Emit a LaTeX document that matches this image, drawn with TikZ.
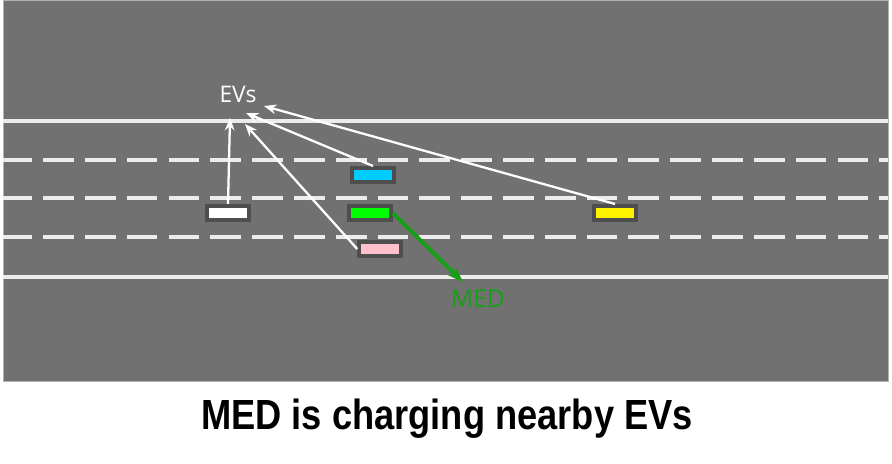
\documentclass[tikz,border=0pt]{standalone}
\usepackage{fontspec}
\setmainfont{Liberation Sans}
\newfontfamily\labelfont{Open Sans}
\usetikzlibrary{arrows.meta}

\definecolor{roadgray}{RGB}{113,113,113}
\definecolor{carborder}{RGB}{78,78,78}
\definecolor{lanewhite}{RGB}{236,236,236}
\definecolor{evcyan}{RGB}{0,204,255}
\definecolor{evpink}{RGB}{255,192,203}
\definecolor{medgreen}{RGB}{0,255,0}
\definecolor{arrowgreen}{RGB}{22,160,22}

\begin{document}
\begin{tikzpicture}[x=0.02cm, y=-0.02cm,
    car/.style={draw=carborder, line width=2pt, rectangle, inner sep=0pt,
                minimum width=0.84cm, minimum height=0.29cm},
    solidlane/.style={lanewhite, line width=2.2pt},
    dashlane/.style={lanewhite, line width=2.2pt, dash pattern=on 17.5pt off 6.3pt, dash phase=1pt},
    evarrow/.style={white, line width=1.3pt, -{Stealth[length=7pt, width=5.5pt]}},
    medarrow/.style={arrowgreen, line width=2.2pt, -{Stealth[length=9pt, width=6.5pt]}}]
    \useasboundingbox (0,0) rectangle (892,463);
    % road
    \fill[roadgray] (3,0) rectangle (888,381);
    \draw[gray!60, line width=0.4pt] (3,0) rectangle (888,381);
    \draw[solidlane] (3,121) -- (888,121);
    \draw[solidlane] (3,277) -- (888,277);
    \foreach \y in {160,198,237}
        \draw[dashlane] (3,\y) -- (888,\y);
    % vehicles
    \node[car, fill=white] (whitecar) at (228,213) {};
    \node[car, fill=evcyan] (cyancar) at (373,175) {};
    \node[car, fill=medgreen] (greencar) at (370,213) {};
    \node[car, fill=evpink] (pinkcar) at (380,249) {};
    \node[car, fill=yellow] (yellowcar) at (615,213) {};
    % labels
    \node[white, font=\labelfont\fontsize{13}{15}\selectfont] (evs) at (238,94) {EVs};
    \node[arrowgreen, font=\labelfont\fontsize{14}{16}\selectfont] (med) at (478,299) {MED};
    \coordinate (tipwhite) at (230,118);
    \coordinate (tipcyan) at (246,113);
    \coordinate (tippink) at (245,124);
    \coordinate (tipyellow) at (264,106);
    \coordinate (tipmed) at (463,282);
    % charging links
    \draw[evarrow] (whitecar.north) -- (tipwhite);
    \draw[evarrow] (cyancar.north) -- (tipcyan);
    \draw[evarrow] (pinkcar.west) -- (tippink);
    \draw[evarrow] (yellowcar.north) -- (tipyellow);
    \draw[medarrow] (greencar.east) -- (tipmed);
    % caption
    \node[font=\bfseries\fontsize{24}{28}\selectfont, xscale=0.86] (caption) at (447,419) {MED is charging nearby EVs};
\end{tikzpicture}
\end{document}
